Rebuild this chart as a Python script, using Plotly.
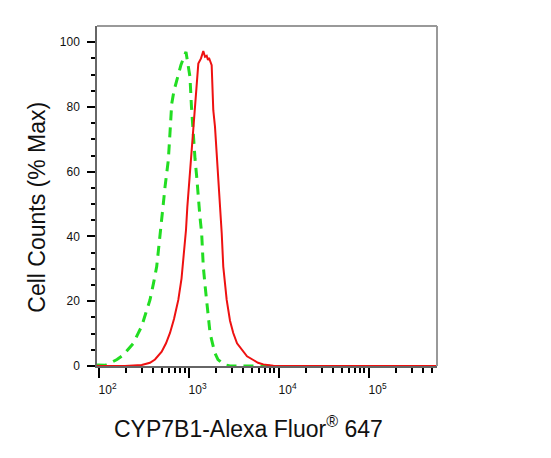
import plotly.graph_objects as go

# Fluorescence intensity (x) and % of max (y)
control_x = [96, 118, 134, 160, 188, 212, 243, 274, 301, 336, 372, 407, 442, 463, 481, 506,
             532, 547, 595, 621, 649, 688, 737, 822, 935, 984, 1035, 1076, 1127, 1178, 1230,
             1282, 1337, 1396, 1456, 1521, 1588, 1663, 1730, 1842, 1963, 2120, 2333, 2600,
             2884, 8017]
control_y = [0.3, 0.2, 0.9, 2, 3.4, 5, 7, 10, 12.3, 16.5, 20.4, 25.5, 30.7, 36, 41, 47,
             52, 55.3, 63.6, 72, 81, 85, 88.3, 93, 97, 93.5, 89.3, 80, 70.8, 64, 58.4,
             51.2, 46, 41, 30.7, 25, 20.4, 15, 10.2, 7, 4, 2, 1, 0.3,
             0, 0]

sample_x = [96, 196, 301, 372, 423, 502, 561, 621, 688, 768, 834, 889, 935, 967, 1035, 1127,
            1208, 1282, 1373, 1456, 1521, 1588, 1641, 1683, 1804, 1880, 1963, 2120, 2193,
            2333, 2427, 2649, 2884, 3133, 3451, 3890, 4456, 5236, 5902, 6761, 8730, 13370,
            575000]
sample_y = [0, 0, 0.3, 1.0, 2, 4.4, 7, 10.2, 14.5, 20.4, 27, 35, 42, 49, 60, 72,
            83, 93.4, 95, 97.3, 95.5, 95.8, 94.5, 95.2, 92.9, 79, 73.9, 60, 51,
            41, 30.7, 20.4, 14, 10.2, 7, 5, 3, 1.85, 1, 0.5, 0.1, 0,
            0]

x_tickvals = [100, 1000, 10000, 100000]
x_ticktext = ["10<sup>2</sup>", "10<sup>3</sup>", "10<sup>4</sup>", "10<sup>5</sup>"]
x_minor = [m * 10 ** d for d in range(2, 6) for m in range(2, 10)]
y_tickvals = [0, 20, 40, 60, 80, 100]
y_minor = [v for v in range(5, 100, 5) if v % 20 != 0]

x_title = "CYP7B1-Alexa Fluor<sup>®</sup> 647"
y_title = "Cell Counts (% Max)"

FONT = "Liberation Sans, Arial, sans-serif"

fig = go.Figure()
fig.add_trace(go.Scatter(x=control_x, y=control_y, mode="lines",
                         line=dict(color="#22dd22", width=3, dash="10px,7px"),
                         showlegend=False, hoverinfo="skip"))
fig.add_trace(go.Scatter(x=sample_x, y=sample_y, mode="lines",
                         line=dict(color="#ee1111", width=2),
                         showlegend=False, hoverinfo="skip"))

fig.update_layout(
    width=535, height=442,
    margin=dict(l=89, r=106, t=18, b=84),
    paper_bgcolor="white", plot_bgcolor="white",
    font=dict(family=FONT, color="#111"),
    xaxis=dict(
        type="log", range=[1.982, 5.76],
        tickmode="array", tickvals=x_tickvals, ticktext=x_ticktext,
        ticks="outside", ticklen=10, tickwidth=2, tickcolor="#000",
        ticklabelshift=9, ticklabelstandoff=2,
        tickfont=dict(size=12, color="#111"),
        minor=dict(tickmode="array", tickvals=x_minor, ticks="outside",
                   ticklen=5, tickwidth=1.5, tickcolor="#000", showgrid=False),
        showline=True, linecolor="#666", linewidth=1.5,
        showgrid=False, zeroline=False,
    ),
    yaxis=dict(
        range=[0, 105],
        tickmode="array", tickvals=y_tickvals,
        ticks="outside", ticklen=8, tickwidth=2, tickcolor="#000",
        ticklabelstandoff=5,
        tickfont=dict(size=12, color="#111"),
        minor=dict(tickmode="array", tickvals=y_minor, ticks="outside",
                   ticklen=4, tickwidth=1.5, tickcolor="#000", showgrid=False),
        showline=True, linecolor="#666", linewidth=1.5,
        showgrid=False, zeroline=False,
    ),
    annotations=[
        dict(text=x_title, xref="paper", yref="paper", x=0.447, y=-0.179,
             xanchor="center", yanchor="middle", showarrow=False,
             font=dict(size=23, color="#111")),
        dict(text=y_title, xref="paper", yref="paper", x=-0.179, y=0.466,
             xanchor="center", yanchor="middle", showarrow=False, textangle=-90,
             font=dict(size=23, color="#111")),
    ],
    shapes=[
        dict(type="line", xref="paper", yref="paper", x0=0, x1=1, y0=1, y1=1,
             line=dict(color="#999", width=2)),
        dict(type="line", xref="paper", yref="paper", x0=1, x1=1, y0=0, y1=1,
             line=dict(color="#999", width=2)),
    ],
)

fig.write_html("out.html")
